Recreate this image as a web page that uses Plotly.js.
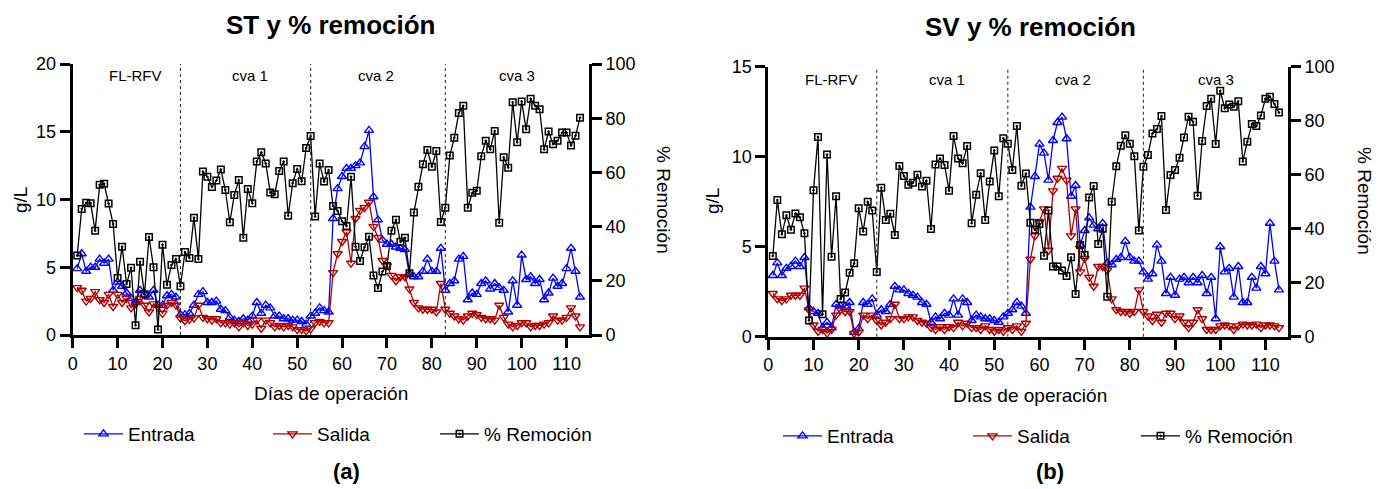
<!DOCTYPE html>
<html><head><meta charset="utf-8">
<script src="https://cdn.plot.ly/plotly-3.0.1.min.js"></script>
<style>html,body{margin:0;padding:0;background:#fff}#chart{width:1380px;height:489px}</style>
</head><body><div id="chart"></div>
<script>
const dias = [1,2,3,4,5,6,7,8,9,10,11,12,13,14,15,16,17,18,19,20,21,22,23,24,25,26,27,28,29,30,
31,32,33,34,35,36,37,38,39,40,41,42,43,44,45,46,47,48,49,50,51,52,53,54,55,56,57,58,59,60,
61,62,63,64,65,66,67,68,69,70,71,72,73,74,75,76,77,78,79,80,81,82,83,84,85,86,87,88,89,90,
91,92,93,94,95,96,97,98,99,100,101,102,103,104,105,106,107,108,109,110,111,112,113];

const stEntrada = [4.9,6.0,4.7,5.0,5.0,5.6,5.3,5.6,3.3,3.9,
 3.6,3.1,2.7,2.4,3.3,3.0,2.8,3.3,2.2,2.2,
 2.9,3.0,2.8,1.5,1.5,1.6,2.2,3.0,3.2,2.4,
 2.4,2.5,1.9,1.8,1.3,1.1,1.0,1.2,1.1,1.4,
 2.4,1.6,2.2,2.0,1.4,1.4,1.2,1.2,1.1,1.1,
 1.0,0.8,1.4,1.6,2.0,1.8,1.7,8.6,10.8,11.7,
 12.3,12.3,12.5,12.7,13.9,15.1,10.2,8.5,7.0,6.7,
 6.7,6.5,6.4,6.3,4.5,4.3,4.3,4.7,5.6,4.7,
 4.7,6.4,3.3,3.8,4.0,5.6,5.8,2.6,3.1,3.0,
 3.8,4.0,3.4,3.8,3.5,3.3,1.7,4.0,2.2,5.9,
 4.1,4.3,3.8,4.1,2.6,3.1,4.2,3.6,3.8,4.9,
 6.4,4.7,2.8];
const stSalida = [3.5,3.3,2.5,2.7,3.2,2.6,2.4,3.0,2.1,3.0,
 2.4,2.7,2.0,2.3,2.7,2.2,1.7,2.3,2.1,1.6,
 2.2,2.4,2.2,1.25,1.05,1.15,1.25,2.2,1.3,1.2,
 1.1,1.2,0.9,0.9,0.8,0.9,0.6,0.9,0.7,0.8,
 1.1,0.5,1.1,0.9,0.6,0.7,0.6,0.7,0.6,0.4,
 0.4,0.3,0.45,0.9,1.0,0.9,0.9,4.6,6.0,6.9,
 7.6,5.3,8.6,9.2,9.4,9.8,8.0,7.2,5.5,5.1,
 4.4,4.0,4.3,4.3,3.4,2.4,2.0,1.9,1.9,1.9,
 1.7,3.8,1.9,1.6,1.4,1.2,1.1,1.4,1.6,1.5,
 1.3,1.2,1.2,1.1,2.2,1.3,0.8,0.6,0.7,0.9,
 0.9,0.6,0.7,0.7,0.8,0.9,1.4,1.1,1.1,1.3,
 2.0,1.4,0.6];
const stRemocion = [29.3,46.5,48.8,48.6,38.5,55.4,55.8,48.5,41.0,21.0,
 32.6,18.8,24.8,3.6,27.0,15.0,36.2,25.0,2.0,33.3,
 18.5,25.8,28.0,18.0,30.6,28.4,43.3,28.0,60.3,58.4,
 54.6,57.0,61.1,53.5,41.6,51.7,57.2,35.9,53.9,48.6,
 64.0,67.4,63.3,52.6,51.9,60.5,64.0,44.0,56.0,61.3,
 56.7,69.0,73.4,43.7,63.3,56.6,60.9,47.6,45.8,42.0,
 40.2,58.4,32.6,27.3,32.4,36.3,22.0,17.3,23.4,25.5,
 38.5,42.5,34.4,35.9,22.8,45.2,54.7,63.0,68.3,62.1,
 67.9,41.7,47.0,66.2,72.8,81.9,84.6,47.0,52.5,53.2,
 66.0,71.7,68.5,75.3,41.4,65.6,61.7,85.9,71.1,86.2,
 75.9,87.2,84.6,83.3,68.5,75.1,70.4,71.7,74.7,74.7,
 69.9,73.5,80.2];

const svEntrada = [3.4,4.1,3.4,3.8,3.9,4.2,3.9,4.4,1.6,1.4,
 1.3,0.5,0.8,0.5,1.8,1.7,1.7,1.9,0.25,0.45,
 1.9,1.8,2.1,1.2,1.5,1.4,1.8,2.8,2.6,2.6,
 2.4,2.3,2.2,1.9,1.8,0.8,1.1,1.0,1.3,1.2,
 2.1,1.2,2.1,1.9,0.9,1.2,1.1,1.0,1.0,0.9,
 0.8,1.1,1.3,1.5,1.9,1.7,1.3,7.2,8.9,10.7,
 10.2,8.7,10.9,11.9,12.2,11.0,7.8,8.4,5.1,5.9,
 6.6,6.2,6.0,6.3,4.1,4.0,4.3,4.4,5.3,4.4,
 4.2,4.2,3.6,3.2,3.5,5.1,4.2,2.4,3.3,2.3,
 3.2,3.3,3.0,3.3,3.0,3.4,2.4,3.3,1.0,5.0,
 3.6,3.8,2.2,3.9,1.9,1.9,3.3,2.7,3.9,3.5,
 6.3,4.2,2.6];
const svSalida = [2.4,2.1,2.0,2.1,2.3,2.3,2.3,2.7,1.5,0.65,
 0.3,0.4,0.2,0.4,1.2,1.5,1.4,1.4,0.18,0.25,
 1.2,1.0,1.2,0.9,0.65,0.8,1.0,1.8,1.0,1.0,
 1.1,1.1,0.9,0.8,0.75,0.5,0.4,0.55,0.4,0.55,
 0.5,0.8,0.6,0.75,0.5,0.5,0.4,0.6,0.4,0.3,
 0.4,0.3,0.5,0.4,0.6,0.3,0.75,4.3,5.6,6.4,
 7.1,4.8,8.1,8.8,9.35,8.7,5.6,7.1,3.6,4.35,
 3.3,2.8,3.9,3.9,3.7,2.1,1.5,1.4,1.4,1.3,
 1.4,2.6,1.4,1.15,0.9,1.25,0.8,1.3,1.3,1.0,
 1.15,0.8,0.5,0.8,1.5,1.0,0.4,0.4,0.4,0.6,
 0.65,0.6,0.4,0.6,0.7,0.65,0.65,0.7,0.5,0.65,
 0.65,0.6,0.5];
const svRemocion = [29.9,50.6,37.9,45.0,39.6,45.6,44.2,38.3,6.0,54.2,
 74.0,8.3,67.5,29.6,52.0,14.0,16.4,23.7,27.2,47.6,
 39.0,50.0,46.7,24.0,55.2,43.2,45.5,37.7,63.2,59.5,
 56.3,57.0,60.0,55.6,57.8,39.9,63.8,66.0,63.6,54.1,
 74.3,66.0,64.2,70.6,42.0,52.6,60.5,43.2,57.5,69.0,
 52.0,73.5,71.5,61.7,78.0,55.9,60.4,42.2,39.6,41.7,
 30.0,46.7,26.0,26.0,24.5,22.5,29.4,15.8,34.0,30.3,
 51.6,55.8,34.3,40.0,14.8,50.0,63.1,70.7,74.6,71.5,
 66.8,39.3,62.9,67.3,75.3,76.9,81.7,46.9,59.9,61.7,
 66.3,73.8,81.5,79.6,52.2,72.5,85.4,88.1,71.4,91.1,
 84.6,86.0,85.2,87.2,64.9,72.2,78.8,78.0,81.9,88.1,
 88.9,86.2,83.0];

const cambiosEtapa = [24, 53, 83];
const etapas = ['FL-RFV', 'cva 1', 'cva 2', 'cva 3'];
const etapasPos = [14, 39.5, 67.5, 99];
const nombres = ['Entrada', 'Salida', '% Remoción'];

const W = 1380, H = 489;
const px = v => v / W, py = v => 1 - v / H;
const FONT = 'Liberation Sans, Arial, Helvetica, sans-serif';
const AZUL = '#0000ff', ROJO = '#b00000', NEGRO = '#000000';

function trazas(xa, ya, ya2, ent, sal, rem, leg, anchos) {
  const base = {x: dias, type: 'scatter', mode: 'lines+markers', xaxis: xa, cliponaxis: false, legend: leg};
  return [
    Object.assign({}, base, {y: ent, yaxis: ya, name: nombres[0], legendwidth: anchos[0],
      line: {color: AZUL, width: 1.3}, marker: {symbol: 'triangle-up-open', size: 8, color: AZUL, line: {width: 1.4, color: AZUL}}}),
    Object.assign({}, base, {y: sal, yaxis: ya, name: nombres[1], legendwidth: anchos[1],
      line: {color: ROJO, width: 1.3}, marker: {symbol: 'triangle-down-open', size: 8, color: ROJO, line: {width: 1.4, color: ROJO}}}),
    Object.assign({}, base, {y: rem, yaxis: ya2, name: nombres[2], legendwidth: anchos[2],
      line: {color: NEGRO, width: 1.3}, marker: {symbol: 'square-open-dot', size: 6.5, color: NEGRO, line: {width: 1.5, color: NEGRO}}})
  ];
}

const data = [].concat(
  trazas('x', 'y', 'y2', stEntrada, stSalida, stRemocion, 'legend', [135, 113, 124]),
  trazas('x2', 'y3', 'y4', svEntrada, svSalida, svRemocion, 'legend2', [136, 114, 124])
);

const eje = {showline: true, linewidth: 3, linecolor: '#000', ticks: 'outside', ticklen: 10, tickwidth: 3,
  tickcolor: '#000', showgrid: false, zeroline: false, fixedrange: true,
  tickfont: {size: 18, color: '#000', family: FONT}};

const domA = [px(72.7), px(589)], domB = [px(768.3), px(1288)];
const domYA = [py(335), py(64)], domYB = [py(336.7), py(66.7)];

const shapes = [];
cambiosEtapa.forEach(d => {
  shapes.push({type: 'line', xref: 'x', yref: 'y domain', x0: d, x1: d, y0: 0, y1: 1, line: {color: '#333', width: 1.1, dash: 'dot'}});
  shapes.push({type: 'line', xref: 'x2', yref: 'y3 domain', x0: d, x1: d, y0: 0, y1: 1, line: {color: '#333', width: 1.1, dash: 'dot'}});
});

const ann = [];
etapas.forEach((t, i) => {
  ann.push({text: t, xref: 'x', yref: 'y domain', x: etapasPos[i], y: 1, yanchor: 'top', yshift: -1, showarrow: false, font: {size: 15, family: FONT, color: '#000'}});
  ann.push({text: t, xref: 'x2', yref: 'y3 domain', x: etapasPos[i], y: 1, yanchor: 'top', yshift: -2, showarrow: false, font: {size: 15, family: FONT, color: '#000'}});
});
function txt(t, x, y, size, angle) {
  ann.push({text: t, xref: 'paper', yref: 'paper', x: px(x), y: py(y), xanchor: 'center', yanchor: 'middle',
    showarrow: false, textangle: angle || 0, font: {size: size, family: FONT, color: '#000'}});
}
txt('<b>ST y % remoción</b>', 331, 25, 26);
txt('<b>SV y % remoción</b>', 1030, 27, 26);
txt('g/L', 20, 200, 19, -90);
txt('% Remoción', 664, 200, 19, 90);
txt('g/L', 712, 201, 19, -90);
txt('% Remoción', 1365, 201, 19, 90);
txt('Días de operación', 331, 393, 19);
txt('Días de operación', 1030, 395, 19);
txt('<b>(a)</b>', 346, 471, 22);
txt('<b>(b)</b>', 1050, 471, 22);

const leg = {orientation: 'h', xanchor: 'left', yanchor: 'middle', font: {size: 19, family: FONT, color: '#000'},
  itemwidth: 39, entrywidth: 124, entrywidthmode: 'pixels', bgcolor: 'rgba(0,0,0,0)', borderwidth: 0};

const layout = {
  width: W, height: H, margin: {l: 0, r: 0, t: 0, b: 0, pad: 0},
  paper_bgcolor: '#fff', plot_bgcolor: '#fff',
  font: {family: FONT, size: 18, color: '#000'},
  showlegend: true,
  xaxis: Object.assign({}, eje, {domain: domA, range: [0, 115], tick0: 0, dtick: 10, anchor: 'y'}),
  yaxis: Object.assign({}, eje, {domain: domYA, range: [0, 20], tick0: 0, dtick: 5, anchor: 'x'}),
  yaxis2: Object.assign({}, eje, {overlaying: 'y', side: 'right', range: [0, 100], tick0: 0, dtick: 20, anchor: 'x'}),
  xaxis2: Object.assign({}, eje, {domain: domB, range: [0, 115], tick0: 0, dtick: 10, anchor: 'y3'}),
  yaxis3: Object.assign({}, eje, {domain: domYB, range: [0, 15], tick0: 0, dtick: 5, anchor: 'x2'}),
  yaxis4: Object.assign({}, eje, {overlaying: 'y3', side: 'right', range: [0, 100], tick0: 0, dtick: 20, anchor: 'x2'}),
  legend: Object.assign({}, leg, {x: px(79), y: py(434)}),
  legend2: Object.assign({}, leg, {x: px(778), y: py(436)}),
  shapes: shapes,
  annotations: ann
};

Plotly.newPlot('chart', data, layout, {staticPlot: true, displayModeBar: false});
</script>
</body></html>
